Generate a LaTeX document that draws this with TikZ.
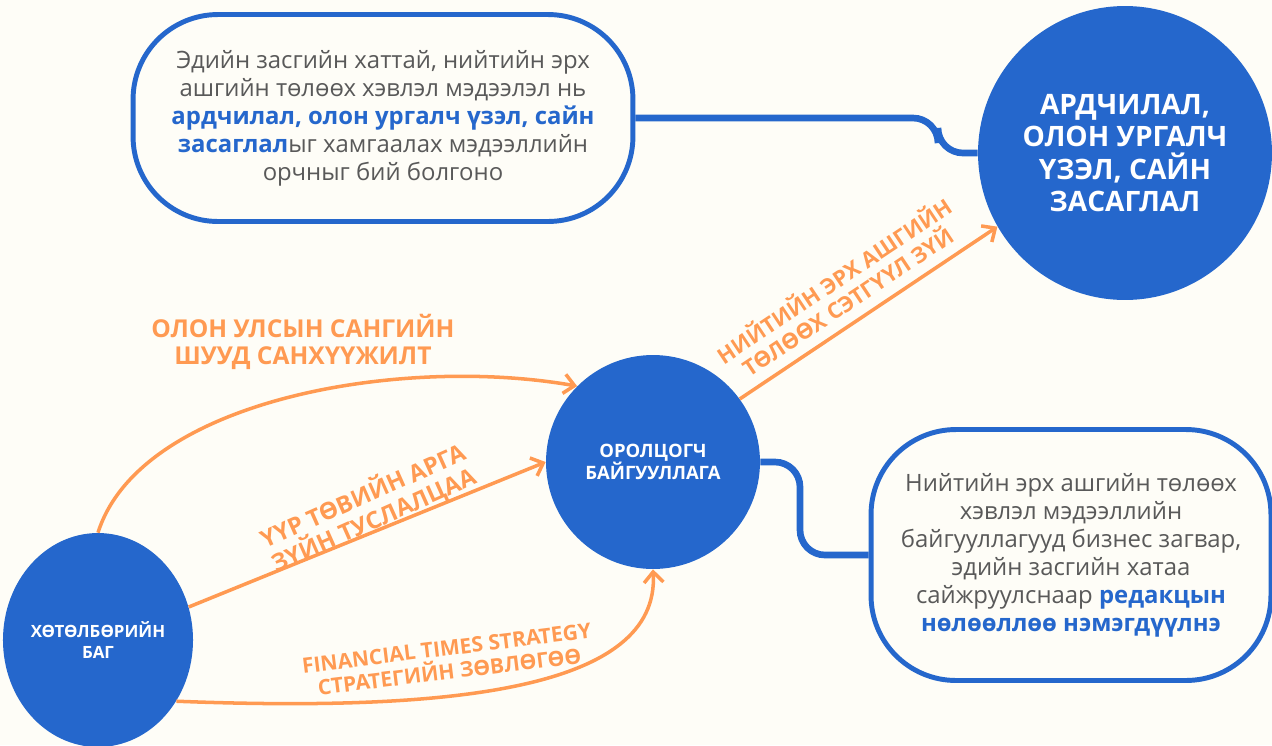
\documentclass[tikz,border=0pt]{standalone}
\usepackage{fontspec}
\setmainfont{Open Sans}
\usepackage{tikz}
\usetikzlibrary{arrows.meta}
\usetikzlibrary{shapes.geometric}

\definecolor{bgpaper}{HTML}{FEFDF7}
\definecolor{mnblue}{HTML}{2567CC}
\definecolor{mnorange}{HTML}{FF9A52}
\definecolor{mngray}{HTML}{595959}

\newcommand{\hl}[1]{\textbf{\color{mnblue}#1}}

\begin{document}
\begin{tikzpicture}[x=0.02cm,y=-0.02cm]

	\tikzset{circ/.style={circle, fill=mnblue, text=white, font=\bfseries, align=center, inner sep=0pt}}
	\tikzset{bubble/.style={draw=mnblue, line width=2.8pt, fill=bgpaper, rounded corners=1.7cm, text=mngray, align=center, font=\fontsize{13.6}{15.9}\selectfont}}
	\tikzset{link/.style={draw=mnblue, line width=3.8pt, rounded corners=0.5cm}}
	\tikzset{flow/.style={draw=mnorange, line width=2pt, -{Straight Barb[length=6pt,width=11pt,line width=2pt]}}}
	\tikzset{flowlabel/.style={text=mnorange, font=\bfseries, align=center}}

	% background and page size
	\fill[bgpaper] (0,0) rectangle (1272,745);
	\useasboundingbox (0,0) rectangle (1272,745);

	% boxes
	\node[bubble, minimum width=10cm, minimum height=4.14cm] (context) at (383,118)
		{Эдийн засгийн хаттай, нийтийн эрх\\
		ашгийн төлөөх хэвлэл мэдээлэл нь\\
		\hl{ардчилал, олон ургалч үзэл, сайн}\\
		\hl{засаглал}ыг хамгаалах мэдээллийн\\
		орчныг бий болгоно};

	\node[bubble, minimum width=8cm, minimum height=5.02cm] (impact) at (1071,555)
		{Нийтийн эрх ашгийн төлөөх\\
		хэвлэл мэдээллийн\\
		байгууллагууд бизнес загвар,\\
		эдийн засгийн хатаа\\
		сайжруулснаар \hl{редакцын}\\
		\hl{нөлөөллөө нэмэгдүүлнэ}};

	% circles
	\node[circ, minimum size=5.88cm, font=\bfseries\fontsize{16}{18.5}\selectfont] (goal) at (1125,153)
		{АРДЧИЛАЛ,\\ ОЛОН УРГАЛЧ\\ ҮЗЭЛ, САЙН\\ ЗАСАГЛАЛ};
	\node[circ, minimum size=4.28cm, font=\bfseries\fontsize{10.5}{12.5}\selectfont] (org) at (653,462)
		{ОРОЛЦОГЧ\\ БАЙГУУЛЛАГА};
	\node[circ, ellipse, minimum width=3.68cm, minimum height=4.28cm, font=\bfseries\fontsize{9.6}{12.5}\selectfont] (team) at (98,640)
		{ХӨТӨЛБӨРИЙН\\ БАГ};

	% blue connectors
	\draw[link] (context.east) -- (938,118) -- (938,153) -- (goal.west);
	\draw[link] (org.east) -- (800,462) -- (800,555) -- (impact.west);

	% orange arrows
	\draw[flow] (team.north) .. controls (140,400) and (400,355) .. (org.north west);
	\draw[flow] (team.20) -- (org.west);
	\draw[flow] (team.-38) .. controls (450,712) and (660,690) .. (org.south);
	\draw[flow] (org.36) -- (goal.210);

	% arrow labels
	\node[flowlabel, font=\bfseries\fontsize{14}{15.5}\selectfont] (fundlbl) at (303,342)
		{ОЛОН УЛСЫН САНГИЙН\\ ШУУД САНХҮҮЖИЛТ};
	\node[flowlabel, rotate=24, font=\bfseries\fontsize{13.5}{15}\selectfont] (methodlbl) at (368,508)
		{ҮҮР ТӨВИЙН АРГА\\ ЗҮЙН ТУСЛАЛЦАА};
	\node[flowlabel, rotate=7, font=\bfseries\fontsize{12}{13.5}\selectfont] (ftlbl) at (448,660)
		{FINANCIAL TIMES STRATEGY\\ СТРАТЕГИЙН ЗӨВЛӨГӨӨ};
	\node[flowlabel, rotate=33.7, font=\bfseries\fontsize{12.5}{14}\selectfont] (ethicslbl) at (840,290)
		{НИЙТИЙН ЭРХ АШГИЙН\\ ТӨЛӨӨХ СЭТГҮҮЛ ЗҮЙ};

\end{tikzpicture}
\end{document}
